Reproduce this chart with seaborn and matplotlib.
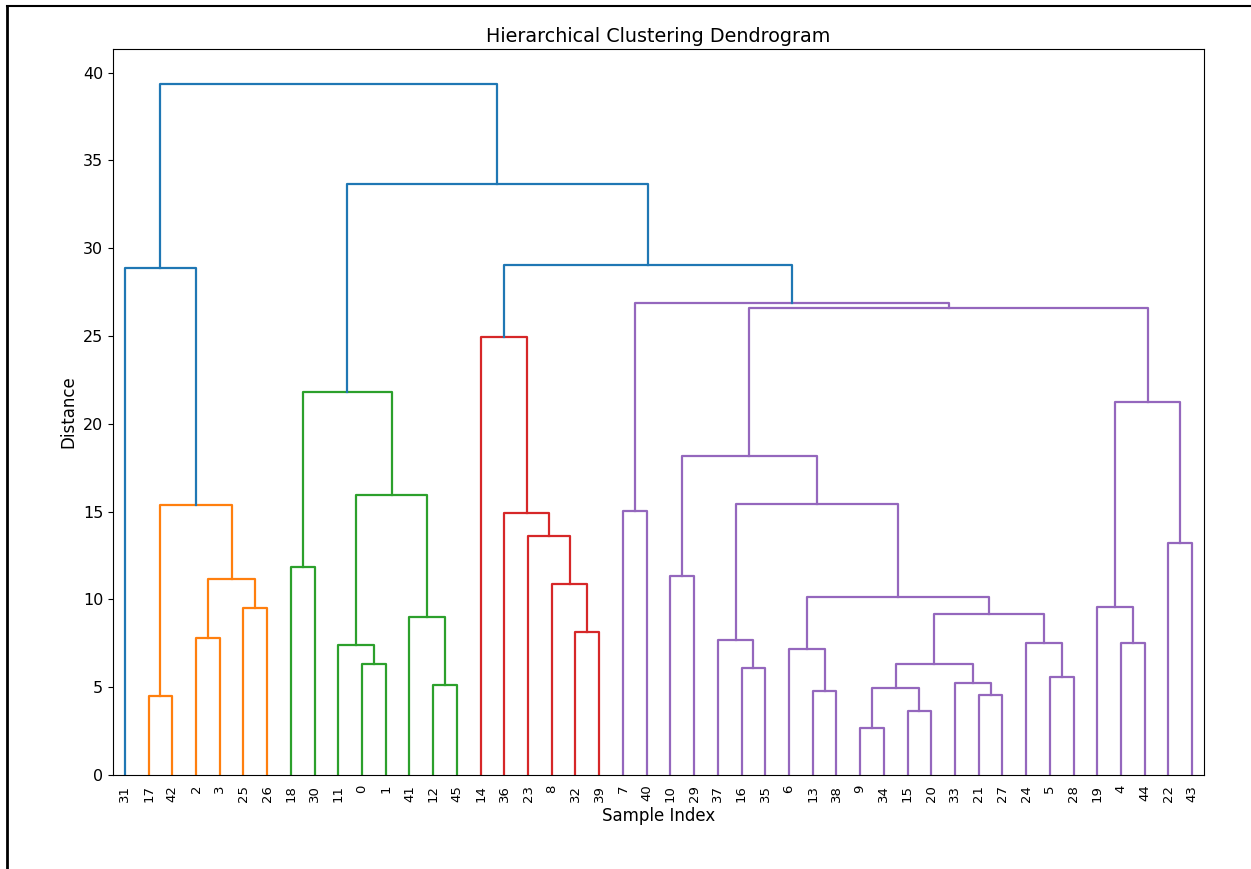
import matplotlib
matplotlib.use('Agg')
import matplotlib.pyplot as plt
from matplotlib.lines import Line2D
import seaborn as sns
import pandas as pd

# leaf order along the x axis (sample indices)
leaf_order = [31, 17, 42, 2, 3, 25, 26, 18, 30, 11, 0, 1, 41, 12, 45,
              14, 36, 23, 8, 32, 39, 7, 40, 10, 29, 37, 16, 35, 6, 13,
              38, 9, 34, 15, 20, 33, 21, 27, 24, 5, 28, 19, 4, 44, 22, 43]

# linkage: cluster ids 0..45 are samples, merge i creates cluster 46+i
merge_a = [9, 15, 17, 21, 13, 46, 12, 33, 5, 16, 0, 51, 6, 11, 24, 4, 37, 2, 32,
           41, 57, 25, 19, 58, 8, 63, 10, 18, 22, 23, 36, 7, 48, 62, 59, 72, 68,
           73, 14, 81, 77, 31, 84, 83, 87]
merge_b = [34, 20, 42, 27, 38, 47, 45, 49, 28, 35, 1, 53, 50, 56, 54, 44, 55, 3, 39,
           52, 60, 26, 61, 66, 64, 67, 29, 30, 43, 70, 75, 40, 71, 69, 65, 79, 74,
           80, 76, 82, 85, 78, 86, 88, 89]
merge_h = [2.68, 3.65, 4.50, 4.56, 4.79, 4.96, 5.13, 5.24, 5.58, 6.10, 6.32, 6.32,
           7.18, 7.40, 7.52, 7.52, 7.69, 7.80, 8.15, 9.00, 9.17, 9.52, 9.57, 10.14,
           10.88, 11.17, 11.34, 11.85, 13.22, 13.62, 14.93, 15.04, 15.38, 15.44,
           15.95, 18.18, 21.25, 21.82, 24.96, 26.60, 26.90, 28.89, 29.06, 33.68,
           39.37]

n = len(leaf_order)
threshold = 0.7 * max(merge_h)

# x position and height of every cluster
xpos = {leaf: 5 + 10 * i for i, leaf in enumerate(leaf_order)}
hpos = {leaf: 0.0 for leaf in leaf_order}
members = {leaf: [leaf] for leaf in leaf_order}
for i, (a, b, h) in enumerate(zip(merge_a, merge_b, merge_h)):
    c = n + i
    xpos[c] = (xpos[a] + xpos[b]) / 2
    hpos[c] = h
    members[c] = members[a] + members[b]

# colour clusters below threshold like scipy (C1, C2, ... left to right)
roots = []
for i, (a, b, h) in enumerate(zip(merge_a, merge_b, merge_h)):
    if h >= threshold:
        for child in (a, b):
            if child >= n and merge_h[child - n] < threshold:
                roots.append(child)
roots.sort(key=lambda c: min(xpos[m] for m in members[c]))
palette = ['C1', 'C2', 'C3', 'C4', 'C5', 'C6']
color_of = {}
for k, r in enumerate(roots):
    stack = [r]
    while stack:
        c = stack.pop()
        if c >= n:
            color_of[c] = palette[k % len(palette)]
            stack += [merge_a[c - n], merge_b[c - n]]

rows = []
for i, (a, b, h) in enumerate(zip(merge_a, merge_b, merge_h)):
    c = n + i
    col = color_of.get(c, 'C0')
    xa, xb = sorted([(xpos[a], hpos[a]), (xpos[b], hpos[b])])
    pts = [(xa[0], xa[1]), (xa[0], h), (xb[0], h), (xb[0], xb[1])]
    for j, (x, y) in enumerate(pts):
        rows.append({'link': c, 'order': j, 'x': x, 'y': y, 'color': col})
df = pd.DataFrame(rows)

fig = plt.figure(figsize=(12.51, 8.69), dpi=100)
ax = fig.add_axes([113 / 1251, 1 - 775 / 869, (1204 - 113) / 1251, (775 - 49) / 869])

sns.lineplot(data=df, x='x', y='y', units='link', estimator=None, sort=False,
             hue='color', palette={p: p for p in df['color'].unique()},
             legend=False, linewidth=1.6, ax=ax)

ax.set_xlim(0, 10 * n)
ax.set_ylim(0, 1.05 * max(merge_h))
ax.set_xticks([5 + 10 * i for i in range(n)])
ax.set_xticklabels([str(l) for l in leaf_order], rotation=90, fontsize=9.5)
for t in ax.get_xticklines():
    t.set_visible(False)
ax.tick_params(axis='y', labelsize=11.5)
ax.set_yticks(range(0, 41, 5))
ax.set_title('Hierarchical Clustering Dendrogram', fontsize=13.8, pad=5)
ax.set_xlabel('Sample Index', fontsize=12)
ax.set_ylabel('Distance', fontsize=12)

# frame of the screenshot
fig.add_artist(Line2D([7 / 1251, 1], [1 - 6 / 869, 1 - 6 / 869],
                      transform=fig.transFigure, color='black', lw=1.5))
fig.add_artist(Line2D([7 / 1251, 7 / 1251], [0, 1 - 6 / 869],
                      transform=fig.transFigure, color='black', lw=2))

fig.savefig('out.png', dpi=100)
